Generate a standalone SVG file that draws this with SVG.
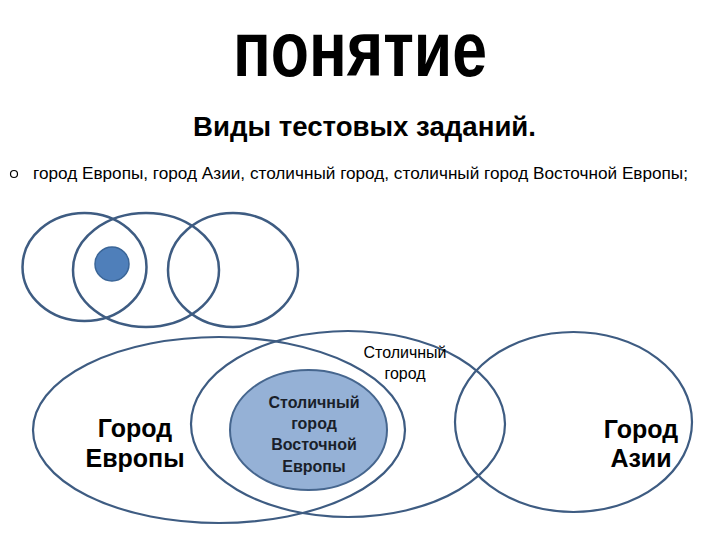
<svg xmlns="http://www.w3.org/2000/svg" width="720" height="540" viewBox="0 0 720 540">
<style>
  .ring { fill: none; stroke: #3E5C82; stroke-width: 2.5; }
  .big { fill: none; stroke: #3E5C82; stroke-width: 2.2; }
  .t { font-family: "Liberation Sans", "DejaVu Sans", sans-serif; fill: #000; }
  .b { font-weight: bold; }
  .lbl { font-family: "Liberation Sans", "DejaVu Sans", sans-serif; font-weight: bold; fill: #000; text-anchor: middle; }
  .inner { font-family: "Liberation Sans", "DejaVu Sans", sans-serif; font-weight: bold; fill: #1A1F2A; text-anchor: middle; }
</style>
<rect width="720" height="540" fill="#FFFFFF"/>

<g id="title">
  <text class="t b" x="233" y="76" font-size="78" textLength="254" lengthAdjust="spacingAndGlyphs">понятие</text>
</g>
<g id="subtitle">
  <text class="t b" x="193" y="136" font-size="27" textLength="343" lengthAdjust="spacingAndGlyphs">Виды тестовых заданий.</text>
</g>
<g id="bullet">
  <circle cx="14" cy="174" r="3.5" fill="none" stroke="#000" stroke-width="1.2"/>
  <text class="t" x="33" y="179" font-size="17" textLength="655" lengthAdjust="spacingAndGlyphs">город Европы, город Азии, столичный город, столичный город Восточной Европы;</text>
</g>

<g id="top-circles">
  <ellipse id="top-circle-1" class="ring" cx="84.5" cy="267" rx="62" ry="54"/>
  <ellipse id="top-circle-2" class="ring" cx="146" cy="270" rx="73" ry="57"/>
  <ellipse id="top-circle-3" class="ring" cx="233" cy="270" rx="65" ry="57"/>
  <circle id="top-dot" cx="112" cy="264" r="17" fill="#4F7FBA" stroke="#3A6597" stroke-width="1.5"/>
</g>

<g id="connectors"></g>

<g id="europe">
  <ellipse class="big" cx="219" cy="430" rx="186" ry="93"/>
  <text class="lbl" x="135" y="437" font-size="25">Город</text>
  <text class="lbl" x="135" y="467" font-size="25">Европы</text>
</g>
<g id="capital">
  <ellipse class="big" cx="348" cy="424" rx="157" ry="93"/>
  <text class="t" x="405" y="358" font-size="16" text-anchor="middle">Столичный</text>
  <text class="t" x="405" y="379" font-size="16" text-anchor="middle">город</text>
</g>
<g id="asia">
  <ellipse class="big" cx="573.5" cy="422" rx="118.5" ry="90"/>
  <text class="lbl" x="641" y="438" font-size="25">Город</text>
  <text class="lbl" x="641" y="467" font-size="25">Азии</text>
</g>
<g id="east-europe-capital">
  <ellipse cx="308.5" cy="430" rx="78.5" ry="60" fill="#95B1D6" stroke="#46668E" stroke-width="2"/>
  <text class="inner" x="314" y="408" font-size="16">Столичный</text>
  <text class="inner" x="314" y="429" font-size="16">город</text>
  <text class="inner" x="314" y="450" font-size="16">Восточной</text>
  <text class="inner" x="314" y="472" font-size="16">Европы</text>
</g>
</svg>
